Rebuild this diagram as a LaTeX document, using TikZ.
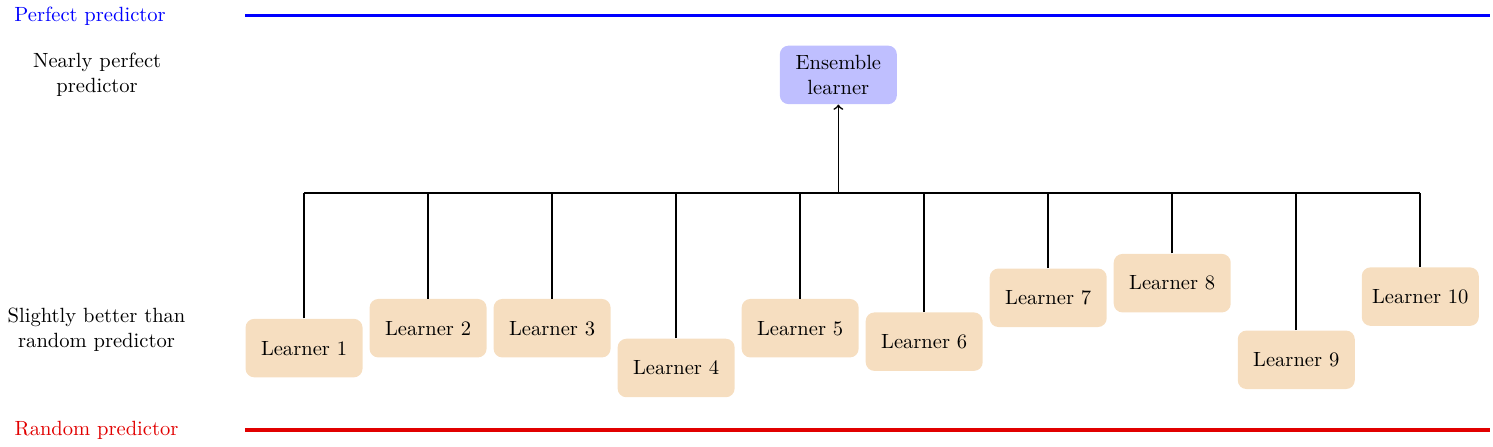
\documentclass[tikz,border=0pt]{standalone}
\definecolor{learnerfill}{RGB}{246,222,192}
\definecolor{randred}{RGB}{225,0,0}

\begin{document}
\begin{tikzpicture}[learnerstyle/.style={fill=learnerfill,rounded corners=1.5mm,minimum width=2cm,minimum height=1cm},
    ensstyle/.style={fill=blue!25,rounded corners=1.5mm,minimum width=2cm,minimum height=1cm,align=center},
    levelstyle/.style={line width=1.5pt}, wirestyle/.style={thick}]
    \useasboundingbox (0,0) rectangle (25.52,7.64);
    % levels
    \node[blue] (perf) at (1.54,7.37) {Perfect predictor};
    \node[align=center] (nearly) at (1.66,6.36) {Nearly perfect\\predictor};
    \node[align=center] (slight) at (1.65,2.0) {Slightly better than\\random predictor};
    \node[randred] (rand) at (1.65,0.29) {Random predictor};
    \coordinate (pl) at (4.19,7.37); \coordinate (pr) at (25.47,7.37);
    \coordinate (rl) at (4.19,0.29); \coordinate (rr) at (25.47,0.29);
    \draw[levelstyle,blue] (pl) -- (pr);
    \draw[levelstyle,randred] (rl) -- (rr);
    % learners
    \node[ensstyle] (ens) at (14.33,6.36) {Ensemble\\learner};
    \foreach \i/\y in {1/1.69,2/2.03,3/2.03,4/1.35,5/2.03,6/1.80,7/2.55,8/2.80,9/1.49,10/2.57}
        \node[learnerstyle] (l\i) at ({5.197+2.12*(\i-1)},\y) {Learner \i};
    \coordinate (bus) at (14.33,4.34);
    \draw[wirestyle] (l1.north |- bus) -- (l10.north |- bus);
    \foreach \i in {1,...,10}
        \draw[wirestyle] (l\i.north) -- (l\i.north |- bus);
    \draw[wirestyle,->] (bus) -- (ens.south);
\end{tikzpicture}
\end{document}
